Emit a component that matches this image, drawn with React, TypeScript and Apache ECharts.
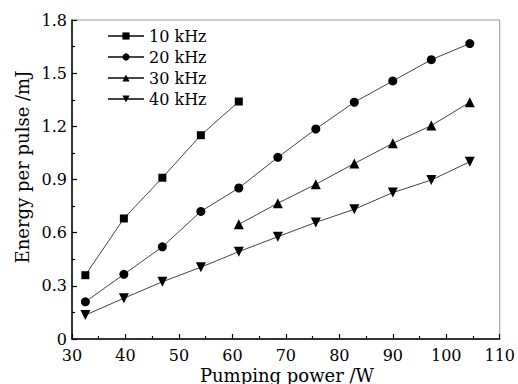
import React, { useEffect, useRef } from "react";
import * as echarts from "echarts";

const xPower = [32.5, 39.7, 46.9, 54.1, 61.2, 68.5, 75.6, 82.8, 90, 97.2, 104.4];
const e10 = [0.36, 0.68, 0.91, 1.15, 1.34];
const e20 = [0.21, 0.365, 0.52, 0.72, 0.852, 1.025, 1.185, 1.336, 1.456, 1.576, 1.667];
const e30 = [0.647, 0.766, 0.873, 0.99, 1.104, 1.204, 1.336];
const e30Start = 4;
const e40 = [0.135, 0.23, 0.323, 0.405, 0.493, 0.577, 0.658, 0.732, 0.826, 0.897, 1.0];
const seriesNames = ["10 kHz", "20 kHz", "30 kHz", "40 kHz"];
const xName = "Pumping power /W";
const yName = "Energy per pulse /mJ";

const FONT = "DejaVu Serif";

function pairs(vals: number[], start = 0) {
  return vals.map((v, i) => [xPower[i + start], v]);
}

export default function App() {
  const ref = useRef<HTMLDivElement>(null);
  useEffect(() => {
    if (!ref.current) return;
    const chart = echarts.init(ref.current, undefined, { renderer: "svg" });
    const lineStyle = { color: "#444", width: 1 };
    const itemStyle = { color: "#000" };
    const mk = (name: string, data: number[][], symbol: string, size: number, rotate = 0) => ({
      name,
      type: "line",
      data,
      symbol,
      symbolSize: size,
      symbolRotate: rotate,
      lineStyle,
      itemStyle,
      z: 3,
    });
    chart.setOption({
      animation: false,
      backgroundColor: "#fff",
      grid: {
        left: 72,
        right: 17,
        top: 20,
        bottom: 45,
        show: true,
        borderColor: "#999",
        borderWidth: 1,
      },
      legend: {
        orient: "vertical",
        left: 107,
        top: 28,
        padding: 0,
        itemWidth: 36,
        itemHeight: 9,
        itemGap: 5,
        textStyle: { fontFamily: FONT, fontSize: 16, color: "#000" },
        data: seriesNames,
      },
      xAxis: {
        type: "value",
        min: 30,
        max: 110,
        interval: 10,
        axisLine: { show: true, lineStyle: { color: "#000", width: 1.5 } },
        axisTick: { show: true, inside: true, length: 5, lineStyle: { color: "#000", width: 1.2 } },
        minorTick: { show: true, splitNumber: 2, length: 3, lineStyle: { color: "#000", width: 1.2 } },
        splitLine: { show: false },
        axisLabel: { fontFamily: FONT, fontSize: 16, color: "#000", margin: 8 },
      },
      yAxis: {
        type: "value",
        min: 0,
        max: 1.8,
        interval: 0.3,
        axisLine: { show: true, lineStyle: { color: "#000", width: 1.5 } },
        axisTick: { show: true, inside: true, length: 5, lineStyle: { color: "#000", width: 1.2 } },
        minorTick: { show: true, splitNumber: 2, length: 3, lineStyle: { color: "#000", width: 1.2 } },
        splitLine: { show: false },
        axisLabel: { fontFamily: FONT, fontSize: 16, color: "#000", margin: 5 },
      },
      graphic: [
        {
          type: "text",
          x: 287,
          y: 375,
          style: {
            text: xName,
            fontFamily: FONT,
            fontSize: 18,
            fill: "#000",
            align: "center",
            verticalAlign: "middle",
          },
        },
        {
          type: "text",
          x: 22,
          y: 167,
          rotation: Math.PI / 2,
          style: {
            text: yName,
            fontFamily: FONT,
            fontSize: 18,
            fill: "#000",
            align: "center",
            verticalAlign: "middle",
          },
        },
      ],
      series: [
        mk(seriesNames[0], pairs(e10), "rect", 8),
        mk(seriesNames[1], pairs(e20), "circle", 9),
        mk(seriesNames[2], pairs(e30, e30Start), "triangle", 10),
        mk(seriesNames[3], pairs(e40), "triangle", 10, 180),
      ],
    });
    return () => chart.dispose();
  }, []);
  return (
    <div
      ref={ref}
      style={{ position: "fixed", left: 0, top: 0, width: 518, height: 384 }}
    />
  );
}
